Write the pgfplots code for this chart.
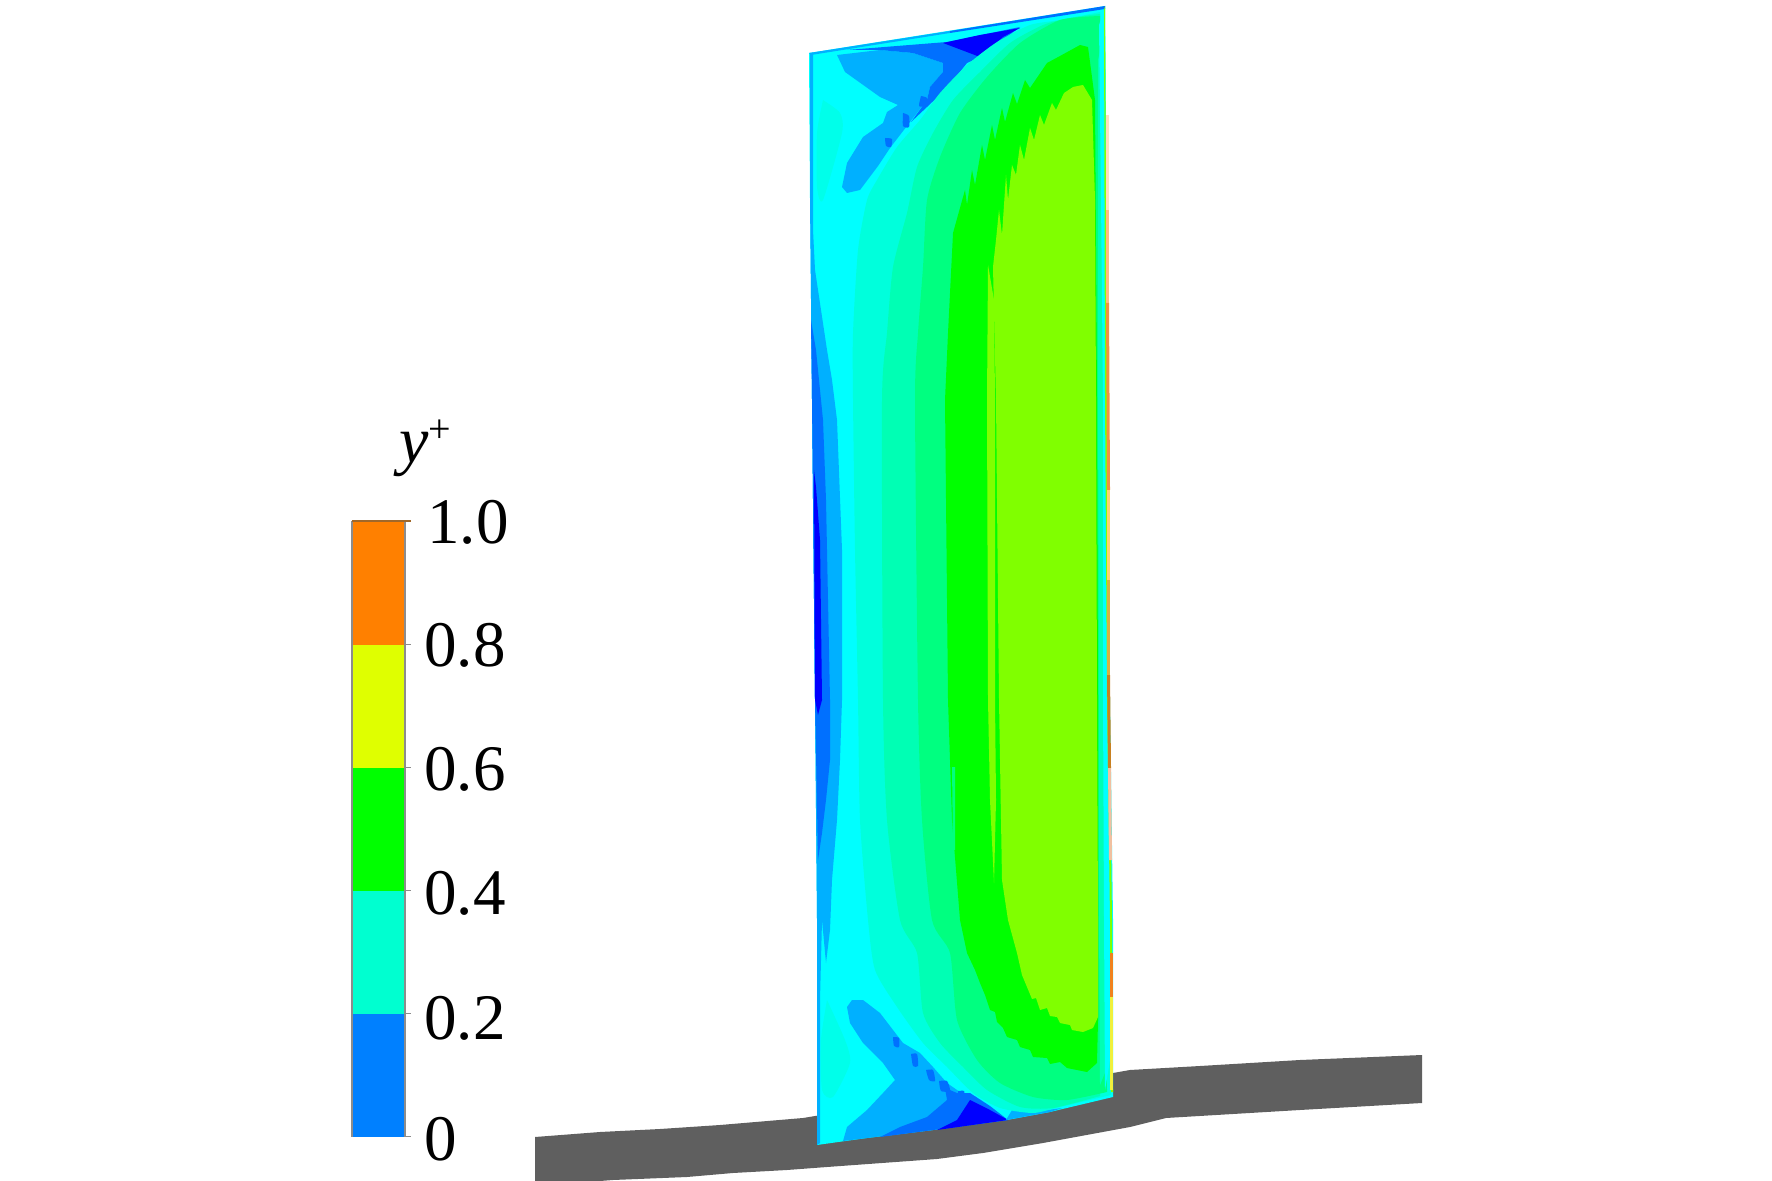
\documentclass[border=0pt]{standalone}
\usepackage{fontspec}
\setmainfont{Liberation Serif}
\usepackage{pgfplots}
\pgfplotsset{compat=1.18}
\definecolor{cdeep}{HTML}{0000FF}
\definecolor{cmid}{HTML}{0070FF}
\definecolor{clb}{HTML}{00B0FF}
\definecolor{ccy}{HTML}{00FFFF}
\definecolor{cpa}{HTML}{00FFEA}
\definecolor{caq}{HTML}{00FFDC}
\definecolor{cta}{HTML}{00FFB4}
\definecolor{csp}{HTML}{00FF80}
\definecolor{cgr}{HTML}{00FF00}
\definecolor{cli}{HTML}{80FF00}
\definecolor{cbody}{HTML}{5F5F5F}
\definecolor{cout}{HTML}{8C8C8C}
\definecolor{ctop}{HTML}{A0682A}
\pgfplotsset{poly/.style={fill=#1,draw=none,forget plot},spoly/.style={fill=#1,draw=none,forget plot,smooth,tension=0.4}}
\begin{document}
\begin{tikzpicture}
\path[use as bounding box] (0,0) rectangle (886pt,590.5pt);
\begin{axis}[
  at={(0,0)},anchor=south west,
  scale only axis,width=886pt,height=590.5pt,
  xmin=0,xmax=1772,ymin=0,ymax=1181,y dir=reverse,
  hide axis,clip=true]
% body
\addplot[poly=cbody] coordinates {(535,1137)(600,1132)(660,1129)(720,1125)(803,1118)(815,1116)(1113,1073)(1130,1070)(1200,1066)(1300,1060)(1422,1055)(1422,1103)(1300,1110)(1166,1118)(1130,1127)(1043,1143)(983,1153)(937,1159)(827,1167)(787,1170)(733,1173)(687,1177)(613,1180)(600,1181)(535,1181)} --cycle;
% wing base
\addplot[poly=ccy] coordinates {(809,53)(1105,6)(1108,400)(1110,700)(1113,920)(1113,1097)(1050,1112)(1007,1120)(933,1130)(867,1138)(817,1145)(817,920)(815,700)(812,400)(810,200)} --cycle;
% left strips
\addplot[poly=clb] coordinates {(810,53)(813,53)(813,230)(815,270)(821,310)(827,350)(832,380)(837,420)(842,550)(842,700)(840,760)(837,820)(832,880)(830,930)(826,963)(822,920)(820,1000)(820,1143)(817,1145)(817,920)(815,700)(812,400)(810,200)} --cycle;
\addplot[poly=cmid] coordinates {(811,320)(816,350)(819,380)(823,420)(826,500)(830,700)(830,760)(826,800)(822,833)(818,860)(815,700)(812,400)} --cycle;
\addplot[poly=cdeep] coordinates {(814,470)(816,487)(820,540)(822,700)(818,715)(815,700)} --cycle;
% slightly greener patches on the left
\addplot[spoly=cpa] coordinates {(823,100)(840,113)(842,133)(823,200)(817,187)(817,133)(823,100)};
\addplot[spoly=cpa] coordinates {(827,1000)(845,1040)(850,1063)(833,1097)(822,1090)(821,1040)(827,1000)};
% top corner patches
\addplot[poly=clb] coordinates {(837,55)(845,72)(880,97)(898,105)(887,112)(883,123)(863,137)(847,163)(842,187)(847,193)(860,190)(878,166)(890,148)(910,122)(927,100)(930,87)(943,72)(943,63)(913,53)(880,50)} --cycle;
\addplot[poly=cmid] coordinates {(847,50)(947,42)(1020,27)(980,57)(967,63)(947,88)(927,107)(911,122)(927,100)(930,87)(943,72)(943,63)(913,53)(880,50)} --cycle;
\addplot[poly=cdeep] coordinates {(943,43)(980,57)(1003,37)(1020,28)(980,35)} --cycle;
\addplot[poly=clb] coordinates {(809,53)(950,31)(950,33)(811,55)} --cycle;
\addplot[poly=cmid] coordinates {(950,31)(1105,6)(1105,9)(950,33)} --cycle;
\addplot[spoly=cmid] coordinates {(921,96)(927,98)(925,106)(919,106)(921,96)};
\addplot[spoly=cmid] coordinates {(903,113)(909,116)(909,127)(903,126)(903,113)};
\addplot[spoly=cmid] coordinates {(885,138)(892,139)(891,147)(886,146)(885,138)};
\addplot[spoly=cmid] coordinates {(937,83)(943,84)(941,89)(936,88)(937,83)};
% bottom corner patches
\addplot[poly=clb] coordinates {(847,1007)(852,1000)(863,1000)(880,1013)(903,1043)(920,1053)(933,1067)(947,1083)(967,1097)(1007,1120)(933,1130)(867,1138)(843,1141)(847,1127)(867,1110)(883,1093)(895,1080)(883,1063)(863,1043)(850,1023)} --cycle;
\addplot[poly=cmid] coordinates {(880,1137)(900,1127)(927,1117)(947,1100)(945,1088)(957,1093)(970,1093)(990,1106)(1008,1120)(933,1130)} --cycle;
\addplot[poly=cdeep] coordinates {(937,1130)(957,1120)(970,1100)(990,1110)(1008,1120)} --cycle;
\addplot[poly=clb] coordinates {(1006,1120)(1012,1110)(1040,1111)(1062,1108)(1050,1112)} --cycle;
\addplot[spoly=cmid] coordinates {(893,1037)(899,1038)(899,1047)(894,1046)(893,1037)};
\addplot[spoly=cmid] coordinates {(911,1054)(917,1054)(918,1066)(913,1066)(911,1054)};
\addplot[spoly=cmid] coordinates {(926,1070)(933,1070)(935,1081)(929,1080)(926,1070)};
\addplot[spoly=cmid] coordinates {(939,1081)(947,1081)(950,1091)(941,1091)(939,1081)};
\addplot[spoly=cmid] coordinates {(958,1091)(964,1091)(964,1097)(959,1097)(958,1091)};
% nested contour zones
\addplot[spoly=caq] coordinates {(1100,12)(1060,20)(1030,25)(997,42)(967,65)(940,93)(920,120)(897,147)(877,180)(867,200)(858,250)(853,333)(853,400)(855,550)(858,700)(860,820)(868,920)(875,970)(897,1007)(923,1043)(947,1067)(973,1093)(1000,1108)(1033,1113)(1060,1107)(1111,1095)};
\addplot[spoly=cta] coordinates {(1100,14)(1070,18)(1043,25)(1010,43)(980,72)(953,100)(933,133)(917,167)(907,213)(893,267)(887,333)(882,400)(883,700)(887,820)(900,920)(917,953)(923,1013)(940,1043)(963,1067)(987,1090)(1020,1107)(1053,1108)(1100,1096)};
\addplot[spoly=csp] coordinates {(1100,16)(1060,20)(1020,43)(987,77)(960,113)(940,157)(927,200)(923,267)(918,333)(915,400)(918,700)(922,820)(932,920)(950,953)(957,1020)(977,1060)(1000,1083)(1033,1097)(1067,1100)(1107,1092)};
\addplot[poly=cgr] coordinates {(945,400)(948,333)(953,233)(958,215)(965,190)(967,205)(972,170)(975,185)(982,145)(985,160)(992,125)(995,140)(1002,108)(1005,122)(1013,93)(1017,104)(1025,80)(1030,88)(1047,63)(1060,56)(1080,45)(1088,47)(1095,100)(1097,400)(1098,700)(1098,920)(1098,1020)(1097,1063)(1087,1072)(1067,1068)(1060,1062)(1050,1064)(1047,1058)(1033,1057)(1030,1050)(1020,1047)(1017,1040)(1007,1037)(1003,1028)(997,1022)(995,1012)(990,1010)(985,995)(980,983)(975,970)(967,953)(960,920)(952,820)(948,700)} --cycle;
\addplot[poly=csp] coordinates {(952,767)(955,767)(955,850)(953,850)} --cycle;
\addplot[poly=cli] coordinates {(988,265)(994,300)(995,400)(995,700)(996,800)(994,883)(990,800)(988,700)(987,400)} --cycle;
\addplot[poly=cli] coordinates {(996,400)(993,267)(996,240)(999,210)(1002,235)(1006,175)(1008,200)(1012,165)(1016,175)(1020,145)(1024,160)(1030,128)(1034,140)(1040,115)(1044,125)(1052,103)(1056,110)(1064,93)(1073,87)(1083,85)(1092,100)(1095,200)(1096,400)(1097,700)(1098,920)(1098,1017)(1093,1028)(1083,1032)(1072,1030)(1070,1025)(1060,1023)(1057,1017)(1050,1016)(1047,1008)(1040,1010)(1036,998)(1032,999)(1027,987)(1022,975)(1017,953)(1008,920)(1002,880)(999,700)} --cycle;
% right edge strips
\addplot[poly=cta] coordinates {(1098,60)(1105,30)(1107,400)(1109,700)(1111,920)(1110,1060)(1100,1085)(1099,920)(1099,700)(1098,400)} --cycle;
\addplot[poly=ccy] coordinates {(1099,25)(1105,8)(1107,400)(1109,700)(1111,920)(1110,1060)(1105,1090)(1104,920)(1103,700)(1103,400)(1101,200)} --cycle;
\addplot[poly=cgr!50!yellow] coordinates {(1104,10)(1105,6)(1107,400)(1109,700)(1112,920)(1113,1092)(1111,1092)(1110,920)(1107,700)(1105,400)} --cycle;
\addplot[fill={rgb,255:red,255;green,221;blue,192},draw=none,forget plot] coordinates {(1106,115)(1109,115)(1109,210)(1106,210)} --cycle;
\addplot[fill={rgb,255:red,255;green,184;blue,128},draw=none,forget plot] coordinates {(1106,210)(1109,210)(1109,303)(1106,303)} --cycle;
\addplot[fill={rgb,255:red,240;green,144;blue,64},draw=none,forget plot] coordinates {(1106,303)(1109,303)(1110,490)(1107,490)} --cycle;
\addplot[fill={rgb,255:red,255;green,208;blue,112},draw=none,forget plot] coordinates {(1107,490)(1110,490)(1110,580)(1107,580)} --cycle;
\addplot[fill={rgb,255:red,216;green,176;blue,64},draw=none,forget plot] coordinates {(1107,580)(1110,580)(1110,675)(1107,675)} --cycle;
\addplot[fill={rgb,255:red,200;green,128;blue,32},draw=none,forget plot] coordinates {(1107,675)(1110,675)(1111,768)(1108,768)} --cycle;
\addplot[fill={rgb,255:red,240;green,192;blue,160},draw=none,forget plot] coordinates {(1108,768)(1111,768)(1112,860)(1109,860)} --cycle;
\addplot[fill={rgb,255:red,240;green,130;blue,30},draw=none,forget plot] coordinates {(1110,953)(1113,953)(1113,997)(1110,997)} --cycle;
\addplot[fill={rgb,255:red,240;green,240;blue,60},draw=none,forget plot] coordinates {(1110,997)(1113,997)(1113,1090)(1110,1090)} --cycle;
% colour bar
\addplot[fill={rgb,255:red,255;green,128;blue,0},draw=none,forget plot] coordinates {(352,521)(405,521)(405,644.5)(352,644.5)} --cycle;
\addplot[fill={rgb,255:red,223;green,255;blue,0},draw=none,forget plot] coordinates {(352,644.5)(405,644.5)(405,767.5)(352,767.5)} --cycle;
\addplot[fill={rgb,255:red,0;green,255;blue,0},draw=none,forget plot] coordinates {(352,767.5)(405,767.5)(405,890.5)(352,890.5)} --cycle;
\addplot[fill={rgb,255:red,0;green,255;blue,208},draw=none,forget plot] coordinates {(352,890.5)(405,890.5)(405,1013.5)(352,1013.5)} --cycle;
\addplot[fill={rgb,255:red,0;green,128;blue,255},draw=none,forget plot] coordinates {(352,1013.5)(405,1013.5)(405,1136.5)(352,1136.5)} --cycle;
\addplot[color=cout,line width=0.7pt,forget plot] coordinates {(352,1136.5)(352,521)};
\addplot[color=cout,line width=0.7pt,forget plot] coordinates {(405,521)(405,1136.5)};
\addplot[color=ctop,line width=0.9pt,forget plot] coordinates {(352,521)(411,521)};
\addplot[color=cout,line width=0.7pt,forget plot] coordinates {(405,644.5)(411,644.5)};
\addplot[color=cout,line width=0.7pt,forget plot] coordinates {(405,767.5)(411,767.5)};
\addplot[color=cout,line width=0.7pt,forget plot] coordinates {(405,890.5)(411,890.5)};
\addplot[color=cout,line width=0.7pt,forget plot] coordinates {(405,1013.5)(411,1013.5)};
\addplot[color=cout,line width=0.7pt,forget plot] coordinates {(405,1136.5)(411,1136.5)};
\node[anchor=west,inner sep=0pt,font=\fontsize{32.5}{33}\selectfont] at (axis cs:427,522) {1.0};
\node[anchor=west,inner sep=0pt,font=\fontsize{32.5}{33}\selectfont] at (axis cs:424,645) {0.8};
\node[anchor=west,inner sep=0pt,font=\fontsize{32.5}{33}\selectfont] at (axis cs:424,769) {0.6};
\node[anchor=west,inner sep=0pt,font=\fontsize{32.5}{33}\selectfont] at (axis cs:424,893) {0.4};
\node[anchor=west,inner sep=0pt,font=\fontsize{32.5}{33}\selectfont] at (axis cs:424,1018) {0.2};
\node[anchor=west,inner sep=0pt,font=\fontsize{32.5}{33}\selectfont] at (axis cs:424,1139) {0};
\node[anchor=west,inner sep=0pt,font=\fontsize{33}{33}\selectfont] at (axis cs:399,448) {\textit{y}\raisebox{10pt}{\fontsize{20}{20}\selectfont +}};
\end{axis}
\end{tikzpicture}
\end{document}
